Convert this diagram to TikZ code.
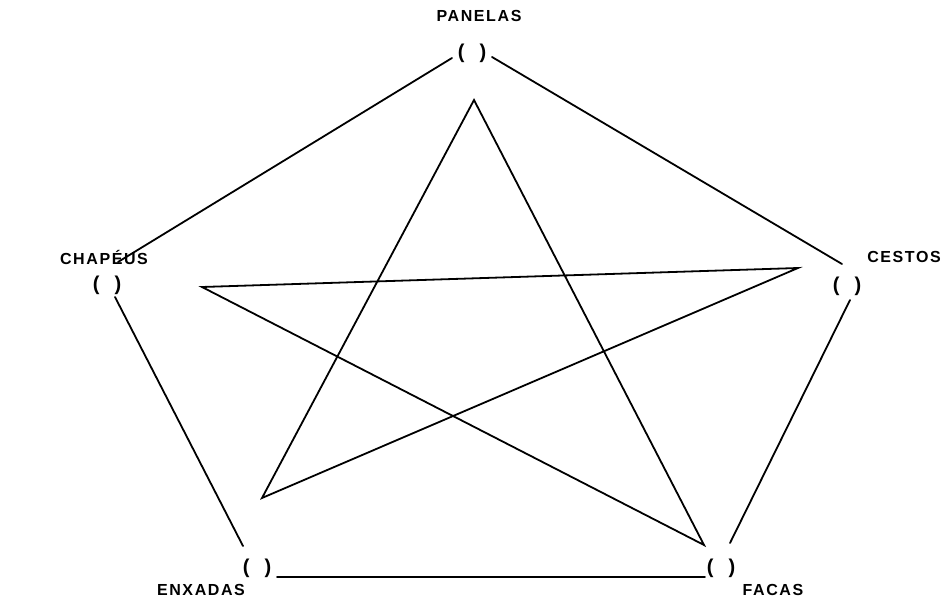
\documentclass[tikz,border=0pt]{standalone}
\usepackage{fontspec}
\setmainfont{Liberation Sans}
\newfontfamily\lbl[LetterSpace=10]{Liberation Sans}
\begin{document}
\begin{tikzpicture}[x=1pt,y=-1pt,
  lab/.style={inner sep=0pt,font=\lbl\bfseries\fontsize{16}{18}\selectfont},
  par/.style={inner sep=0pt,font=\bfseries\fontsize{20}{22}\selectfont},
  ln/.style={line width=1.8pt,line cap=round}]
\fill[white] (0,0) rectangle (952,602);
\useasboundingbox (0,0) rectangle (952,602);
% labels
\node[lab] (tP) at (479,16) {PANELAS};
\node[lab] (tC) at (104,257) {CHAPÉUS};
\node[lab] (tE) at (904,257) {CESTOS};
\node[lab] (tX) at (201,590) {ENXADAS};
\node[lab] (tF) at (773,590) {FACAS};
% brackets
\node[par] (bP) at (472,53) {(\hspace{15pt})};
\node[par] (bC) at (107,285) {(\hspace{15pt})};
\node[par] (bE) at (847,286) {(\hspace{15pt})};
\node[par] (bX) at (257,568) {(\hspace{15pt})};
\node[par] (bF) at (721,568) {(\hspace{15pt})};
% pentagon end points
\coordinate (p1) at (452,58);
\coordinate (p2) at (492,57);
\coordinate (c1) at (118,262);
\coordinate (c2) at (115,297);
\coordinate (e1) at (842,264);
\coordinate (e2) at (850,300);
\coordinate (x1) at (243,546);
\coordinate (x2) at (277,577);
\coordinate (f1) at (730,543);
\coordinate (f2) at (705,577);
\draw[ln] (p1) -- (c1);
\draw[ln] (p2) -- (e1);
\draw[ln] (c2) -- (x1);
\draw[ln] (e2) -- (f1);
\draw[ln] (x2) -- (f2);
% star
\coordinate (sT) at (474,100);
\coordinate (sR) at (798,268);
\coordinate (sL) at (202,287);
\coordinate (sBL) at (262,498);
\coordinate (sBR) at (704,545);
\draw[ln,line join=miter] (sT) -- (sBL) -- (sR) -- (sL) -- (sBR) -- cycle;
\end{tikzpicture}
\end{document}
